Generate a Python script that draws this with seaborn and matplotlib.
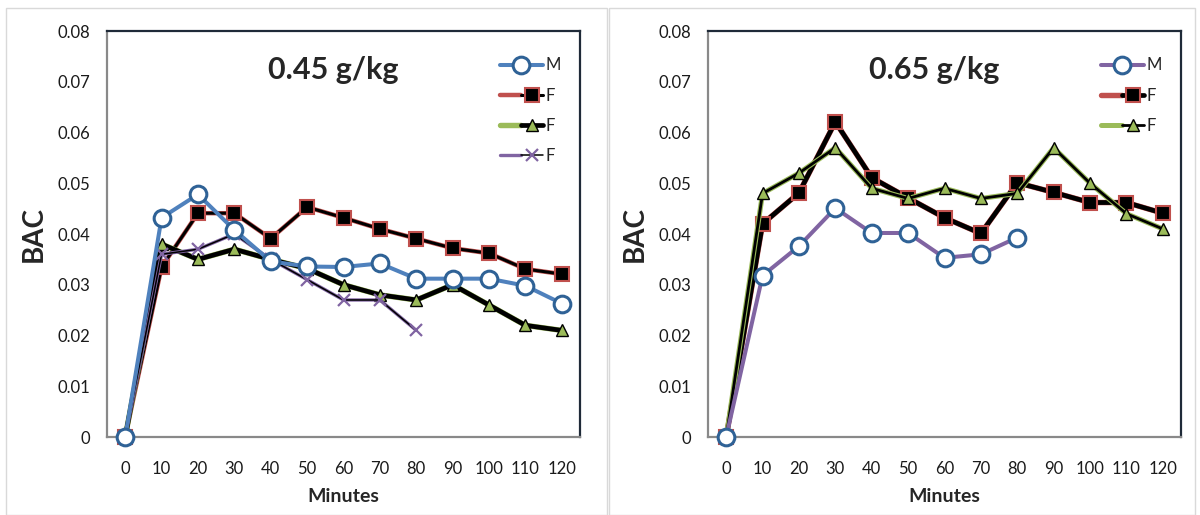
import numpy as np
import pandas as pd
import seaborn as sns
import matplotlib
matplotlib.use("Agg")
from matplotlib import pyplot as plt
from matplotlib.patches import Rectangle
from matplotlib.legend_handler import HandlerTuple
from matplotlib.ticker import MultipleLocator, FuncFormatter

# Datos (BAC frente a minutos)
minutes = [0, 10, 20, 30, 40, 50, 60, 70, 80, 90, 100, 110, 120]

# 0.45 g/kg
m_045 = [0, 0.0432, 0.0478, 0.0408, 0.0346, 0.0336, 0.0335, 0.0342, 0.0312, 0.0312, 0.0312, 0.0298, 0.0263]
f1_045 = [0, 0.0335, 0.0441, 0.0441, 0.0391, 0.0453, 0.0432, 0.0410, 0.0391, 0.0372, 0.0362, 0.0331, 0.0321]
f2_045 = [0, 0.0380, 0.0350, 0.0370, 0.0350, 0.0332, 0.0300, 0.0280, 0.0270, 0.0300, 0.0260, 0.0220, 0.0210]
f3_045 = [0, 0.0360, 0.0370, 0.0400, 0.0350, 0.0310, 0.0270, 0.0270, 0.0210, np.nan, np.nan, np.nan, np.nan]

# 0.65 g/kg
m_065 = [0, 0.0318, 0.0376, 0.0451, 0.0402, 0.0402, 0.0353, 0.0360, 0.0393, np.nan, np.nan, np.nan, np.nan]
f1_065 = [0, 0.0420, 0.0481, 0.0621, 0.0511, 0.0471, 0.0432, 0.0401, 0.0501, 0.0482, 0.0462, 0.0462, 0.0441]
f2_065 = [0, 0.0480, 0.0520, 0.0570, 0.0490, 0.0470, 0.0490, 0.0470, 0.0480, 0.0570, 0.0500, 0.0440, 0.0410]

titles = ["0.45 g/kg", "0.65 g/kg"]

BLUE = "#4f81bd"
DBLUE = "#2f6296"
RED = "#c0504d"
GREEN = "#9bbb59"
PURPLE = "#8064a2"
AXGREY = "#898989"
FRAME = "#1f2a38"

sns.set_style("white")
plt.rcParams["font.family"] = ["Lato", "DejaVu Sans"]

fig = plt.figure(figsize=(12, 5.15), dpi=100)

# marcos de cada gráfico
fig.patches.append(Rectangle((6 / 1200, 0), 601 / 1200, 1 - 8 / 515, transform=fig.transFigure,
                             fill=False, edgecolor="#d9d9d9", lw=1))
fig.patches.append(Rectangle((609 / 1200, 0), 586 / 1200, 1 - 8 / 515, transform=fig.transFigure,
                             fill=False, edgecolor="#d9d9d9", lw=1))

ax1 = fig.add_axes([107 / 1200, 1 - 437 / 515, 473 / 1200, 406 / 515])
ax2 = fig.add_axes([708 / 1200, 1 - 437 / 515, 473 / 1200, 406 / 515])


def serie(ax, y, color, lw, marker, ms, mfc, mec, mew, fringe=None, fringe_lw=None, z=2):
    """Dibuja una serie; si hay 'fringe' pinta antes una línea más ancha de otro color."""
    df = pd.DataFrame({"Minutes": minutes, "BAC": y}).dropna()
    extra = None
    if fringe is not None:
        sns.lineplot(data=df, x="Minutes", y="BAC", ax=ax, color=fringe, lw=fringe_lw,
                     errorbar=None, legend=False, clip_on=False, zorder=z)
        extra = ax.lines[-1]
    sns.lineplot(data=df, x="Minutes", y="BAC", ax=ax, color=color, lw=lw, marker=marker,
                 markersize=ms, markerfacecolor=mfc, markeredgecolor=mec, markeredgewidth=mew,
                 errorbar=None, legend=False, clip_on=False, zorder=z)
    main = ax.lines[-1]
    return (extra, main) if extra is not None else main


h1 = [
    serie(ax1, m_045, BLUE, 2.9, "o", 12, "white", DBLUE, 2.2, z=5),
    serie(ax1, f1_045, "black", 2.2, "s", 9.5, "black", RED, 1.5, fringe=RED, fringe_lw=3.2),
    serie(ax1, f2_045, "black", 3.4, "^", 9, GREEN, "black", 1.0, fringe=GREEN, fringe_lw=3.9),
    serie(ax1, f3_045, "black", 1.1, "x", 9, PURPLE, PURPLE, 1.6, fringe=PURPLE, fringe_lw=2.4),
]
h2 = [
    serie(ax2, m_065, PURPLE, 2.9, "o", 12, "white", DBLUE, 2.2, z=5),
    serie(ax2, f1_065, "black", 3.4, "s", 9.5, "black", RED, 1.5, fringe=RED, fringe_lw=3.9),
    serie(ax2, f2_065, "black", 2.0, "^", 9, GREEN, "black", 1.0, fringe=GREEN, fringe_lw=3.6),
]

labels1 = ["M", "F", "F", "F"]
labels2 = ["M", "F", "F"]

for ax, handles, labels, title in [(ax1, h1, labels1, titles[0]), (ax2, h2, labels2, titles[1])]:
    ax.set_xlim(-5, 125)
    ax.set_ylim(0, 0.08)
    ax.set_xticks(minutes)
    ax.set_xticklabels([str(m) for m in minutes])
    ax.xaxis.set_minor_locator(MultipleLocator(10, offset=5))
    ax.yaxis.set_major_locator(MultipleLocator(0.01))
    ax.yaxis.set_minor_locator(MultipleLocator(0.002))
    ax.yaxis.set_major_formatter(FuncFormatter(lambda v, p: "0" if abs(v) < 1e-9 else f"{v:.2f}"))
    ax.tick_params(axis="x", which="major", length=0, pad=17, labelsize=12, labelcolor="#1a1a1a")
    ax.tick_params(axis="x", which="minor", length=5, width=1.3, color=AXGREY, direction="out")
    ax.tick_params(axis="y", which="major", length=6, width=1.3, color=AXGREY, direction="out",
                   pad=6, labelsize=12, labelcolor="#1a1a1a")
    ax.tick_params(axis="y", which="minor", length=4, width=1.3, color=AXGREY, direction="out")
    for s in ["left", "bottom"]:
        ax.spines[s].set_color(AXGREY)
        ax.spines[s].set_linewidth(1.6)
    for s in ["top", "right"]:
        ax.spines[s].set_color(FRAME)
        ax.spines[s].set_linewidth(1.6)
    ax.set_xlabel("Minutes", fontsize=14, fontweight="bold", labelpad=8)
    ax.set_ylabel("BAC", fontsize=20, fontweight="bold", labelpad=8)
    ax.text(0.478, 0.905, title, transform=ax.transAxes, ha="center", va="center",
            fontsize=22, fontweight="bold")
    ax.legend(handles=handles, labels=labels, loc="upper left", bbox_to_anchor=(0.83, 0.935),
              frameon=False, fontsize=12, handlelength=2.6, handletextpad=0.15,
              labelspacing=0.85, borderpad=0, borderaxespad=0,
              handler_map={tuple: HandlerTuple(ndivide=None)})

fig.savefig("out.png", dpi=100)
